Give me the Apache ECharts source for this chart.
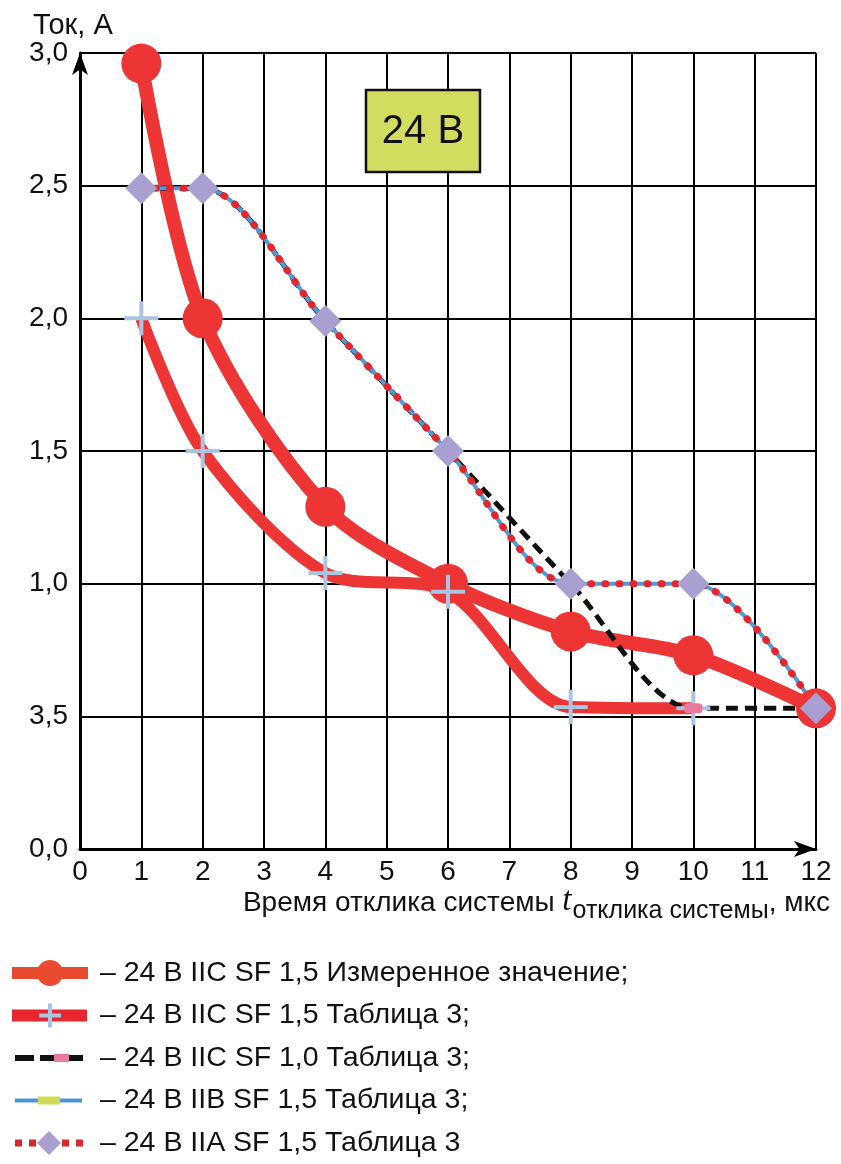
<!DOCTYPE html>
<html>
<head>
<meta charset="utf-8">
<script src="https://cdn.jsdelivr.net/npm/echarts@6/dist/echarts.min.js"></script>
<style>
html, body { margin: 0; padding: 0; background: #fff; }
#chart { width: 841px; height: 1164px; }
</style>
</head>
<body>
<div id="chart"></div>
<script>
// подписи осей (на исходном рисунке 0,5 подписано как «3,5»)
const xTicks = ['0', '1', '2', '3', '4', '5', '6', '7', '8', '9', '10', '11', '12'];
const yTicks = ['0,0', '3,5', '1,0', '1,5', '2,0', '2,5', '3,0'];

// 24 В IIC SF 1,5 измеренное значение
const measuredX = [1, 2, 4, 6, 8, 10, 12];
const measuredY = [2.96, 2.0, 1.29, 1.0, 0.82, 0.73, 0.53];
// 24 В IIC SF 1,5 таблица 3
const iic15X = [1, 2, 4, 6, 8, 10];
const iic15Y = [2.0, 1.5, 1.04, 0.97, 0.535, 0.53];
// 24 В IIC SF 1,0 таблица 3
const iic10X = [1, 2, 4, 6, 8, 10, 12];
const iic10Y = [2.49, 2.49, 1.99, 1.5, 1.0, 0.53, 0.53];
// 24 В IIB SF 1,5 таблица 3
const iib15X = [1, 2, 4, 6, 8, 10, 12];
const iib15Y = [2.49, 2.49, 1.99, 1.5, 1.0, 1.0, 0.53];
// 24 В IIA SF 1,5 таблица 3
const iia15X = [1, 2, 4, 6, 8, 10, 12];
const iia15Y = [2.49, 2.49, 1.99, 1.5, 1.0, 1.0, 0.53];

const legendNames = [
  '– 24 В IIC SF 1,5 Измеренное значение;',
  '– 24 В IIC SF 1,5 Таблица 3;',
  '– 24 В IIC SF 1,0 Таблица 3;',
  '– 24 В IIB SF 1,5 Таблица 3;',
  '– 24 В IIA SF 1,5 Таблица 3'
];

const FONT = '"Liberation Sans", Arial, sans-serif';
const RED = '#ee3535';
const PLUS = 'path://M7.5,0h2v7.5h7.5v2h-7.5v7.5h-2v-7.5h-7.5v-2h7.5z';
const SMOOTH = 0.3;

const pairs = (xs, ys) => xs.map((x, i) => [x, ys[i]]);

// легенда рисуется вручную, чтобы повторить значки оригинала
const legendGraphics = [];
legendNames.forEach((name, i) => {
  const y = 973 + i * 42.5;
  if (i === 0) {
    legendGraphics.push({ type: 'line', shape: { x1: 12, y1: y, x2: 88, y2: y }, style: { stroke: '#ea4a2f', lineWidth: 12 } });
    legendGraphics.push({ type: 'circle', shape: { cx: 50, cy: y, r: 13 }, style: { fill: '#ea4a2f' } });
  } else if (i === 1) {
    legendGraphics.push({ type: 'line', shape: { x1: 12, y1: y, x2: 87, y2: y }, style: { stroke: '#e8262f', lineWidth: 12 } });
    legendGraphics.push({ type: 'rect', shape: { x: 48, y: y - 12, width: 4, height: 24 }, style: { fill: '#a8c6e4' } });
    legendGraphics.push({ type: 'rect', shape: { x: 39, y: y - 2, width: 22, height: 4 }, style: { fill: '#a8c6e4' } });
  } else if (i === 2) {
    legendGraphics.push({ type: 'line', shape: { x1: 15, y1: y, x2: 83, y2: y }, style: { stroke: '#111', lineWidth: 6, lineDash: [19, 6] } });
    legendGraphics.push({ type: 'rect', shape: { x: 54, y: y - 4, width: 15, height: 8 }, style: { fill: '#e97ba0' } });
  } else if (i === 3) {
    legendGraphics.push({ type: 'line', shape: { x1: 15, y1: y, x2: 82, y2: y }, style: { stroke: '#4a96d4', lineWidth: 4 } });
    legendGraphics.push({ type: 'rect', shape: { x: 38, y: y - 4, width: 22, height: 8 }, style: { fill: '#d0dc55' } });
  } else {
    [15, 29, 62, 76].forEach(x => {
      legendGraphics.push({ type: 'rect', shape: { x: x, y: y - 3.5, width: 7, height: 7 }, style: { fill: '#d9262f' } });
    });
    legendGraphics.push({ type: 'polygon', shape: { points: [[49, y - 12], [61, y], [49, y + 12], [37, y]] }, style: { fill: '#a99fd0' } });
  }
  legendGraphics.push({
    type: 'text', x: 100, y: y,
    style: { text: name, font: '28.5px ' + FONT, fill: '#111', verticalAlign: 'middle' }
  });
});

const chart = echarts.init(document.getElementById('chart'));
const option = {
  backgroundColor: '#fff',
  animation: false,
  title: [
    {
      text: 'Ток, А', left: 28, top: 6,
      textStyle: { fontSize: 29, fontWeight: 'normal', color: '#111', fontFamily: FONT }
    },
    {
      text: '{a|Время отклика системы }{t|t}{s|отклика системы}{a|, мкс}',
      right: 6, top: 886,
      textStyle: {
        rich: {
          a: { fontSize: 28, fontWeight: 'normal', fontFamily: FONT, color: '#111', verticalAlign: 'bottom', lineHeight: 33, padding: [0, 0, 7, 0] },
          t: { fontSize: 33, fontWeight: 'normal', fontFamily: '"Liberation Serif", serif', fontStyle: 'italic', color: '#111', verticalAlign: 'bottom', lineHeight: 33, padding: [0, 1, 6, 0] },
          s: { fontSize: 25, fontWeight: 'normal', fontFamily: FONT, color: '#111', verticalAlign: 'bottom', lineHeight: 28 }
        }
      }
    }
  ],
  grid: { left: 80, right: 25, top: 53, bottom: 315 },
  xAxis: {
    type: 'value', min: 0, max: 12, interval: 1,
    axisLine: { lineStyle: { color: '#000', width: 3 }, symbol: ['none', 'arrow'], symbolSize: [12, 22] },
    axisTick: { show: false },
    axisLabel: { formatter: v => xTicks[Math.round(v)], fontSize: 28, color: '#111', fontFamily: FONT, margin: 9 },
    splitLine: { lineStyle: { color: '#000', width: 2 } }
  },
  yAxis: {
    type: 'value', min: 0, max: 3, interval: 0.5,
    axisLine: { show: true, lineStyle: { color: '#000', width: 3 }, symbol: ['none', 'arrow'], symbolSize: [12, 22] },
    axisTick: { show: false },
    axisLabel: { formatter: v => yTicks[Math.round(v / 0.5)], fontSize: 28, color: '#111', fontFamily: FONT, margin: 12 },
    splitLine: { lineStyle: { color: '#000', width: 2 } }
  },
  series: [
    {
      name: legendNames[0], type: 'line', smooth: SMOOTH,
      data: pairs(measuredX, measuredY),
      symbol: 'circle', symbolSize: 40,
      lineStyle: { color: RED, width: 14 },
      itemStyle: { color: RED }
    },
    {
      name: legendNames[1], type: 'line', smooth: SMOOTH,
      data: pairs(iic15X, iic15Y),
      symbol: PLUS, symbolSize: 34,
      lineStyle: { color: RED, width: 12 },
      itemStyle: { color: '#a8c6e4' }
    },
    {
      name: legendNames[2], type: 'line', smooth: SMOOTH,
      data: pairs(iic10X, iic10Y),
      symbol: 'roundRect', symbolSize: [18, 10],
      lineStyle: { color: '#111', width: 5, type: [12, 7] },
      itemStyle: { color: '#e97ba0' }
    },
    {
      name: legendNames[3], type: 'line', smooth: SMOOTH,
      data: pairs(iib15X, iib15Y),
      symbol: 'rect', symbolSize: [20, 8],
      lineStyle: { color: '#4e9bd6', width: 4 },
      itemStyle: { color: '#d0dc55' }
    },
    {
      name: legendNames[4], type: 'line', smooth: SMOOTH,
      data: pairs(iia15X, iia15Y),
      symbol: 'diamond', symbolSize: 32,
      lineStyle: { color: '#e3252e', width: 7, type: [1, 13], cap: 'round' },
      itemStyle: { color: '#a99fd0' }
    }
  ],
  graphic: [
    { type: 'rect', shape: { x: 366, y: 90, width: 114, height: 82 }, style: { fill: '#d2dc5e', stroke: '#111', lineWidth: 2.5 }, z: 10 },
    { type: 'text', x: 423, y: 132, z: 11, style: { text: '24 В', font: '40px ' + FONT, fill: '#111', align: 'center', verticalAlign: 'middle' } }
  ].concat(legendGraphics)
};
chart.setOption(option);
</script>
</body>
</html>
